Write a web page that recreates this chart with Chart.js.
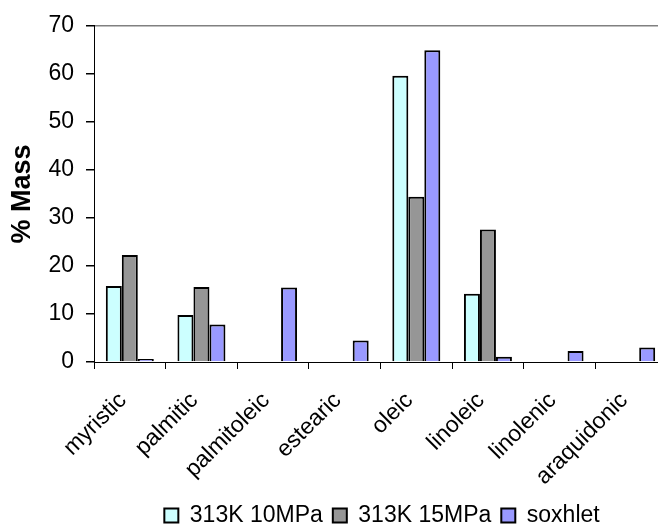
<!DOCTYPE html>
<html>
<head>
<meta charset="utf-8">
<script src="https://cdn.jsdelivr.net/npm/chart.js@4.4.1/dist/chart.umd.min.js"></script>
<style>
  body { margin: 0; background: #fff; overflow: hidden; }
  #wrap { width: 760px; height: 541px; }
</style>
</head>
<body>
<div id="wrap"><canvas id="chart1" width="760" height="541"></canvas></div>
<script>
const ctx = document.getElementById('chart1').getContext('2d');

let labelsX = ["myristic", "palmitic", "palmitoleic", "estearic", "oleic", "linoleic", "linolenic", "araquidonic"];

let valores10MPa = [15.8, 9.8, 0, 0, 59.6, 14.2, 0, 0];
let valores15MPa = [22.3, 15.6, 0, 0, 34.4, 27.6, 0, 0];
let valoresSoxhlet = [0.6, 7.8, 15.5, 4.5, 64.9, 1.1, 2.3, 3.0];

let ticksY = [0, 10, 20, 30, 40, 50, 60, 70];

const fonte = "'Liberation Sans', Arial, sans-serif";

new Chart(ctx, {
  type: 'bar',
  data: {
    labels: labelsX,
    datasets: [{
      label: '313K 10MPa',
      backgroundColor: '#CCFFFF',
      borderColor: '#000',
      data: valores10MPa,
      borderWidth: 2
    }, {
      label: '313K 15MPa',
      backgroundColor: '#969696',
      borderColor: '#000',
      data: valores15MPa,
      borderWidth: 2
    }, {
      label: 'soxhlet',
      backgroundColor: '#9999FF',
      borderColor: '#000',
      data: valoresSoxhlet,
      borderWidth: 2
    }]
  },
  options: {
    responsive: false,
    animation: false,
    barPercentage: 1.0,
    categoryPercentage: 0.67,
    layout: {
      padding: { left: 4, top: 25, right: 0, bottom: 4 }
    },
    plugins: {
      legend: {
        position: 'bottom',
        labels: {
          color: '#000',
          font: { family: fonte, size: 23 },
          boxWidth: 14,
          boxHeight: 14,
          padding: 10
        }
      },
      tooltip: { enabled: false }
    },
    scales: {
      y: {
        min: 0,
        max: 70,
        afterBuildTicks: (scale) => {
          scale.ticks = ticksY.map(v => ({ value: v }));
        },
        afterFit: (scale) => { scale.width = 90; },
        border: { color: '#000', width: 1 },
        grid: {
          color: (c) => c.tick && c.tick.value === 70 ? '#808080' : 'rgba(0,0,0,0)',
          lineWidth: 1.5,
          tickColor: '#000',
          tickLength: 8
        },
        ticks: {
          color: '#000',
          font: { family: fonte, size: 23 },
          padding: 12
        },
        title: {
          display: true,
          text: '% Mass',
          color: '#000',
          font: { family: fonte, size: 27, weight: 'bold' },
          padding: 2
        }
      },
      // empty axis on the right, only to keep space so the plot is cut like the original
      yDer: {
        position: 'right',
        afterFit: (scale) => { scale.width = 93; },
        border: { display: false },
        grid: { display: false },
        ticks: { display: false }
      },
      x: {
        offset: true,
        afterFit: (scale) => { scale.height = 132; },
        border: { color: '#000', width: 1 },
        grid: {
          offset: true,
          drawOnChartArea: false,
          tickColor: '#000',
          tickLength: 7
        },
        ticks: {
          color: '#000',
          font: { family: fonte, size: 23 },
          minRotation: 45,
          maxRotation: 45,
          autoSkip: false,
          labelOffset: -7,
          padding: 18
        }
      }
    }
  }
});
</script>
</body>
</html>
